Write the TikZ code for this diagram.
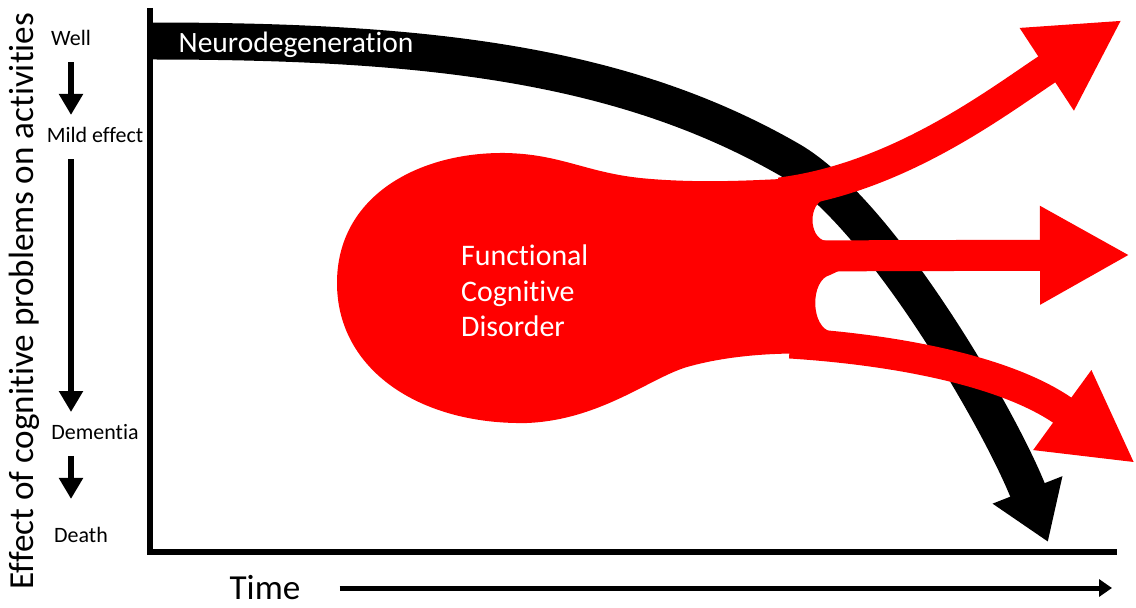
\documentclass[tikz,border=0pt]{standalone}
\usepackage{fontspec}
\setmainfont{Carlito}[Ligatures=NoCommon]
\usetikzlibrary{arrows.meta,positioning}

\begin{document}
\begin{tikzpicture}[
    x=0.02cm, y=-0.02cm,
    stagelbl/.style={font=\fontsize{12.5}{15}\selectfont, inner sep=0pt},
    stagearrow/.style={line width=0.12cm, shorten <=0.32cm, shorten >=0.24cm,
                       -{Triangle[width=0.46cm,length=0.42cm]}},
    axis/.style={line width=0.11cm},
    big/.style={font=\fontsize{20}{24}\selectfont},
    band/.style={line width=0.74cm, -{Triangle[width=1.42cm,length=1.12cm]}},
    branch/.style={red, line width=0.62cm, -{Triangle[width=1.84cm,length=1.8cm]}},
    timearrow/.style={line width=0.1cm, -{Triangle[width=0.34cm,length=0.26cm]}}
]
    \useasboundingbox (0,0) rectangle (1136,608);

    % Stages on the left
    \node[stagelbl] (well) at (71,38) {Well};
    \node[stagelbl] (mild) at (95,135) {Mild effect};
    \node[stagelbl] (dementia) at (95,432) {Dementia};
    \node[stagelbl] (death) at (81,535) {Death};

    \draw[stagearrow] (well.south) -- (well.south |- mild.north);
    \draw[stagearrow] (well.south |- mild.south) -- (well.south |- dementia.north);
    \draw[stagearrow, shorten >=0.56cm] (well.south |- dementia.south) -- (well.south |- death.north);

    % Axes
    \node[big, rotate=90] (effect) at (24,301) {Effect of cognitive problems on activities};
    \draw[axis] (150,8) -- (150,552) -- (1117,552);

    % Neurodegeneration
    \draw[band] (150,41) .. controls (420,41) and (620,62) .. (790,160)
                .. controls (880,212) and (1000,420) .. (1048,542);
    \node[font=\fontsize{16.8}{20}\selectfont, text=white] (neuro) at (296,45) {Neurodegeneration};

    % Functional cognitive disorder
    \fill[red] (337,283) .. controls (337,195) and (420,152) .. (505,153)
        .. controls (560,154) and (585,172) .. (640,178)
        .. controls (700,184) and (760,180) .. (800,178)
        -- (830,196) -- (826,199) .. controls (808,202) and (808,238) .. (826,241) -- (845,246)
        -- (845,268) -- (830,275) .. controls (810,280) and (810,328) .. (832,332) -- (850,340)
        -- (850,355) .. controls (800,352) and (740,352) .. (687,367)
        .. controls (650,378) and (600,420) .. (527,423)
        .. controls (420,425) and (337,370) .. (337,283) -- cycle;
    \draw[branch] (780,193) .. controls (900,178) and (1000,100) .. (1122,20);
    \draw[branch] (780,256) -- (1130,255);
    \draw[branch] (790,343) .. controls (900,350) and (1010,372) .. (1135,463);
    \node[font=\fontsize{17}{20.2}\selectfont, text=white, align=left, anchor=west] (fcd)
        at (455,291) {Functional\\Cognitive\\Disorder};

    % Time
    \node[big] (time) at (265,588) {Time};
    \coordinate (timeend) at (1112,588);
    \draw[timearrow] ([xshift=0.66cm]time.east) -- (timeend);
\end{tikzpicture}
\end{document}
